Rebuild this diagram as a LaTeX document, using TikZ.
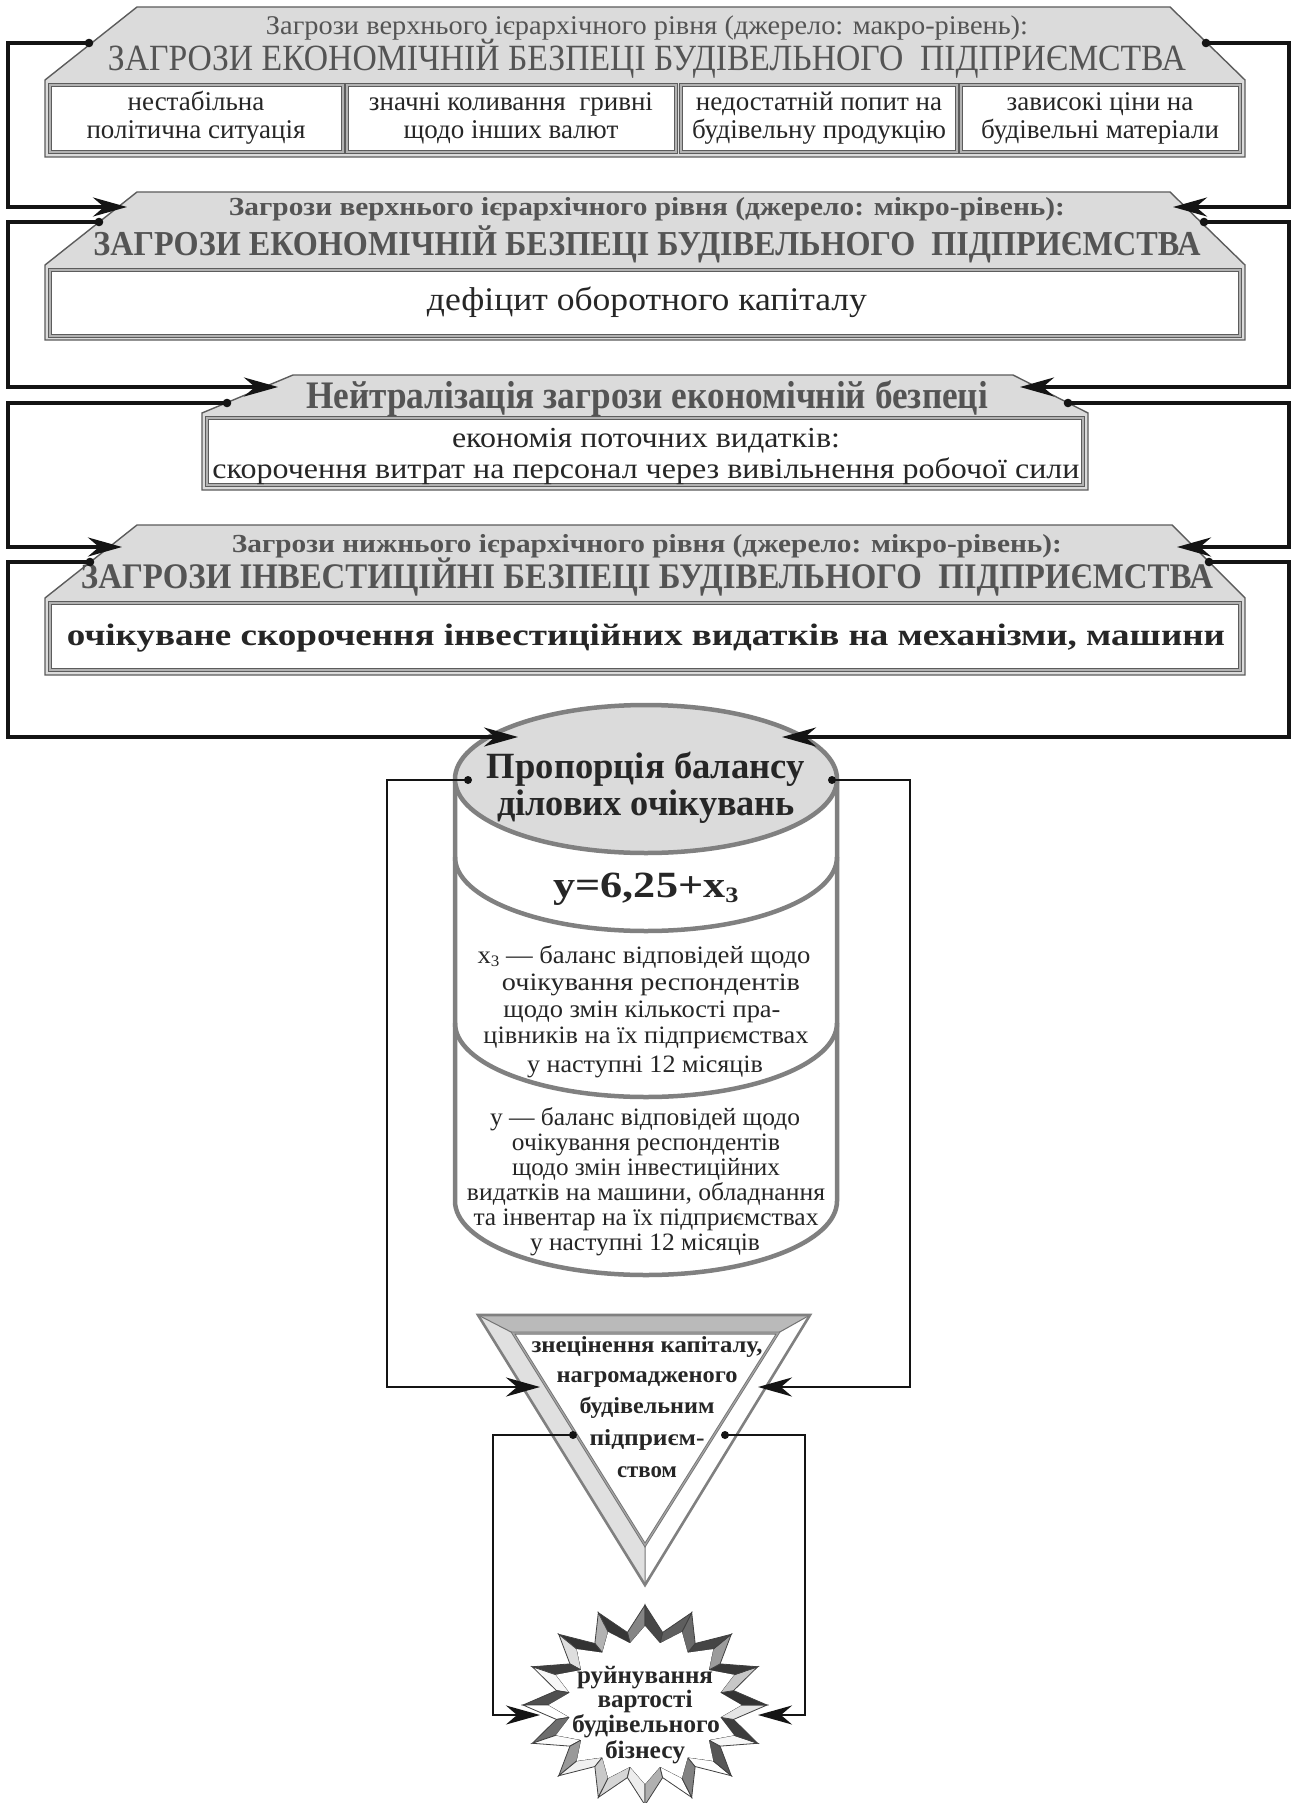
\documentclass[tikz,border=0pt]{standalone}
\usepackage{fontspec}
\setmainfont{Liberation Serif}
\usepackage{graphicx}
\usetikzlibrary{arrows.meta,calc}
\newcommand{\fw}[2]{\resizebox{#1pt}{\height}{#2}}
\newcommand{\fs}[1]{\fontsize{#1}{#1}\selectfont}
\definecolor{boxfill}{gray}{0.86}
\definecolor{edgec}{gray}{0.36}
\definecolor{ttlc}{gray}{0.33}
\definecolor{dtxt}{gray}{0.15}
\definecolor{cylc}{gray}{0.50}
\begin{document}
\begin{tikzpicture}[x=1pt,y=-1pt,
  hexbox/.style={fill=boxfill,draw=edgec,line width=1.4},
  inbox/.style={fill=white,draw=edgec,line width=0.9,double=black!30,double distance=1.3},
  conn/.style={line width=3.3,draw=black!92,line join=miter},
  connb/.style={line width=2.7,draw=black!92},
  connc/.style={line width=2.1,draw=black!92},
  arr/.style={-{Stealth[length=34pt,width=19pt,inset=11pt]}},
  lbl/.style={inner sep=0pt,outer sep=0pt,text=dtxt,anchor=base},
  ttl/.style={inner sep=0pt,outer sep=0pt,text=ttlc,anchor=base},
  dotc/.style={fill=black!92}]
\useasboundingbox (0,0) rectangle (1295,1803);
\fill[white] (0,0) rectangle (1295,1803);

% ---------- box 1 ----------
\draw[hexbox] (137,7) -- (1170,7) -- (1245,80) -- (1245,157) -- (45,157) -- (45,80) -- cycle;
\draw[inbox] (50,85) rectangle (343,152);
\draw[inbox] (347,85) rectangle (676,152);
\draw[inbox] (681,85) rectangle (957,152);
\draw[inbox] (961,85) rectangle (1240,152);
\node[ttl] (s1) at (647,35) {\fw{762}{\fs{27}Загрози верхнього ієрархічного рівня (джерело: макро-рівень):}};
\node[ttl] (h1) at (647,71) {\fw{1078}{\fs{37}ЗАГРОЗИ ЕКОНОМІЧНІЙ БЕЗПЕЦІ БУДІВЕЛЬНОГО\ \ ПІДПРИЄМСТВА}};
\node[lbl] (f1a) at (196,111) {\fs{27}нестабільна};
\node[lbl] (f1b) at (196,139) {\fs{27}політична ситуація};
\node[lbl] (f2a) at (511,111) {\fs{27}значні коливання\ \ гривні};
\node[lbl] (f2b) at (511,139) {\fs{27}щодо інших валют};
\node[lbl] (f3a) at (819,111) {\fs{27}недостатній попит на};
\node[lbl] (f3b) at (819,139) {\fs{27}будівельну продукцію};
\node[lbl] (f4a) at (1100,111) {\fs{27}зависокі ціни на};
\node[lbl] (f4b) at (1100,139) {\fs{27}будівельні матеріали};

% ---------- box 2 ----------
\draw[hexbox] (137,192) -- (1170,192) -- (1245,265) -- (1245,340) -- (45,340) -- (45,265) -- cycle;
\draw[inbox] (50,270) rectangle (1240,336);
\node[ttl] (s2) at (647,215) {\fw{836}{\fs{26}\bfseries Загрози верхнього ієрархічного рівня (джерело: мікро-рівень):}};
\node[ttl] (h2) at (647,255) {\fw{1107}{\fs{35}\bfseries ЗАГРОЗИ ЕКОНОМІЧНІЙ БЕЗПЕЦІ БУДІВЕЛЬНОГО\ \ ПІДПРИЄМСТВА}};
\node[lbl] (c2) at (647,310) {\fw{440}{\fs{33}дефіцит оборотного капіталу}};

% ---------- box 3 ----------
\draw[hexbox] (293,375) -- (1013,375) -- (1088,413) -- (1088,490) -- (202,490) -- (202,413) -- cycle;
\draw[inbox] (207,418) rectangle (1083,485);
\node[ttl] (h3) at (647,408) {\fw{682}{\fs{39}\bfseries Нейтралізація загрози економічній безпеці}};
\node[lbl] (c3a) at (646,447) {\fw{388}{\fs{29}економія поточних видатків:}};
\node[lbl] (c3b) at (646,478) {\fw{867}{\fs{29}скорочення витрат на персонал через вивільнення робочої сили}};

% ---------- box 4 ----------
\draw[hexbox] (137,525) -- (1172,525) -- (1245,598) -- (1245,675) -- (45,675) -- (45,598) -- cycle;
\draw[inbox] (50,603) rectangle (1240,670);
\node[ttl] (s4) at (647,552) {\fw{830}{\fs{26}\bfseries Загрози нижнього ієрархічного рівня (джерело: мікро-рівень):}};
\node[ttl] (h4) at (647,588) {\fw{1132}{\fs{36}\bfseries ЗАГРОЗИ ІНВЕСТИЦІЙНІ БЕЗПЕЦІ БУДІВЕЛЬНОГО\ \ ПІДПРИЄМСТВА}};
\node[lbl] (c4) at (646,645) {\fw{1158}{\fs{31}\bfseries очікуване скорочення інвестиційних видатків на механізми, машини}};

% ---------- cylinder ----------
\fill[white] (455,779) -- (455,1201) arc[start angle=180,end angle=0,x radius=191,y radius=74] -- (837,779) -- cycle;
\draw[cylc,line width=4.5] (455,779) -- (455,1201) arc[start angle=180,end angle=0,x radius=191,y radius=74] -- (837,779);
\draw[cylc,line width=4.5] (455,857) arc[start angle=180,end angle=0,x radius=191,y radius=74];
\draw[cylc,line width=4.5] (455,1023) arc[start angle=180,end angle=0,x radius=191,y radius=74];
\draw[cylc,line width=4.5,fill=boxfill] (646,779) ellipse[x radius=191,y radius=74];
\node[lbl] (k1) at (646,778) {\fw{318}{\fs{37}\bfseries Пропорція балансу}};
\node[lbl] (k2) at (646,815) {\fw{298}{\fs{37}\bfseries ділових очікувань}};
\node[lbl] (k3) at (646,897) {\fw{185}{\fs{37}\bfseries y=6,25+x{\fs{22}\raisebox{-5pt}{3}}}};
\node[lbl] (x1) at (644,963) {\fw{333}{\fs{25}x{\fs{16}\raisebox{-3pt}{3}} — баланс відповідей щодо}};
\node[lbl] (x2) at (651,990) {\fw{298}{\fs{25}очікування респондентів}};
\node[lbl] (x3) at (642,1017) {\fw{277}{\fs{25}щодо змін кількості пра-}};
\node[lbl] (x4) at (646,1043) {\fw{325}{\fs{25}цівників на їх підприємствах}};
\node[lbl] (x5) at (645,1072) {\fw{236}{\fs{25}у наступні 12 місяців}};
\node[lbl] (y1) at (645,1125) {\fw{310}{\fs{25}y — баланс відповідей щодо}};
\node[lbl] (y2) at (646,1150) {\fw{268}{\fs{25}очікування респондентів}};
\node[lbl] (y3) at (646,1175) {\fw{268}{\fs{25}щодо змін інвестиційних}};
\node[lbl] (y4) at (646,1200) {\fw{358}{\fs{25}видатків на машини, обладнання}};
\node[lbl] (y5) at (646,1225) {\fw{345}{\fs{25}та інвентар на їх підприємствах}};
\node[lbl] (y6) at (645,1250) {\fw{230}{\fs{25}у наступні 12 місяців}};

% ---------- triangle ----------
\coordinate (O1) at (478,1315); \coordinate (O2) at (810,1315); \coordinate (O3) at (645,1585);
\coordinate (I1) at (513,1333); \coordinate (I2) at (778,1333); \coordinate (I3) at (645,1545);
\fill[black!27] (O1) -- (O2) -- (I2) -- (I1) -- cycle;
\fill[black!12] (O1) -- (I1) -- (I3) -- (O3) -- cycle;
\fill[white] (O2) -- (O3) -- (I3) -- (I2) -- cycle;
\draw[black!55,line width=1] (O1) -- (I1) (O2) -- (I2) (O3) -- (I3);
\draw[black!50,line width=2.6,line join=miter] (O1) -- (O2) -- (O3) -- cycle;
\draw[black!55,line width=0.9,double=black!35,double distance=1.2,fill=white] (I1) -- (I2) -- (I3) -- cycle;
\node[lbl] (r1) at (647,1352) {\fw{231}{\fs{23}\bfseries знецінення капіталу,}};
\node[lbl] (r2) at (647,1382) {\fw{181}{\fs{23}\bfseries нагромадженого}};
\node[lbl] (r3) at (647,1413) {\fw{135}{\fs{23}\bfseries будівельним}};
\node[lbl] (r4) at (647,1445) {\fw{115}{\fs{23}\bfseries підприєм-}};
\node[lbl] (r5) at (647,1477) {\fw{60}{\fs{23}\bfseries ством}};

% ---------- star ----------
\def\scx{645}\def\scy{1705}
\def\vr{0.74}
\foreach \i in {0,...,31}{
  \pgfmathsetmacro{\aA}{90+\i*11.25}
  \pgfmathsetmacro{\aB}{90+(\i+1)*11.25}
  \pgfmathsetmacro{\rA}{mod(\i,2)==0?1:\vr}
  \pgfmathsetmacro{\rB}{mod(\i+1,2)==0?1:\vr}
  \pgfmathsetmacro{\fA}{mod(\i,2)==0?0.79:0.85}
  \pgfmathsetmacro{\fB}{mod(\i+1,2)==0?0.79:0.85}
  \pgfmathsetmacro{\pAx}{\scx+122*\rA*cos(\aA)}
  \pgfmathsetmacro{\pAy}{\scy-100*\rA*sin(\aA)}
  \pgfmathsetmacro{\pBx}{\scx+122*\rB*cos(\aB)}
  \pgfmathsetmacro{\pBy}{\scy-100*\rB*sin(\aB)}
  \pgfmathsetmacro{\qAx}{\scx+122*\rA*\fA*cos(\aA)}
  \pgfmathsetmacro{\qAy}{\scy-100*\rA*\fA*sin(\aA)}
  \pgfmathsetmacro{\qBx}{\scx+122*\rB*\fB*cos(\aB)}
  \pgfmathsetmacro{\qBy}{\scy-100*\rB*\fB*sin(\aB)}
  \pgfmathsetmacro{\nx}{\pBy-\pAy}
  \pgfmathsetmacro{\ny}{\pAx-\pBx}
  \pgfmathsetmacro{\mx}{(\pAx+\pBx)/2-\scx}
  \pgfmathsetmacro{\my}{(\pAy+\pBy)/2-\scy}
  \pgfmathsetmacro{\sg}{(\nx*\mx+\ny*\my)<0?-1:1}
  \pgfmathsetmacro{\nl}{sqrt(\nx*\nx+\ny*\ny)}
  \pgfmathsetmacro{\up}{-\sg*\ny/\nl}
  \pgfmathsetmacro{\rt}{\sg*\nx/\nl}
  \pgfmathtruncatemacro{\sh}{max(0,min(85,40+38*\up+14*\rt))}
  \filldraw[fill=black!\sh,draw=black!75,line width=0.8] (\pAx,\pAy) -- (\pBx,\pBy) -- (\qBx,\qBy) -- (\qAx,\qAy) -- cycle;
}
\foreach \i in {0,...,31}{
  \pgfmathsetmacro{\aA}{90+\i*11.25}
  \pgfmathsetmacro{\rA}{mod(\i,2)==0?0.79:\vr*0.85}
  \coordinate (sq\i) at ({\scx+122*\rA*cos(\aA)},{\scy-100*\rA*sin(\aA)});
}
\fill[white] (sq0) \foreach \i in {1,...,31}{ -- (sq\i)} -- cycle;
\node[lbl] (z1) at (645,1683) {\fw{136}{\fs{25}\bfseries руйнування}};
\node[lbl] (z2) at (645,1707) {\fw{95}{\fs{25}\bfseries вартості}};
\node[lbl] (z3) at (646,1732) {\fw{148}{\fs{25}\bfseries будівельного}};
\node[lbl] (z4) at (645,1758) {\fw{80}{\fs{25}\bfseries бізнесу}};

% ---------- connector coordinates ----------
\coordinate (xL) at (8,0); \coordinate (xR) at (1289,0);
\coordinate (d1L) at (89,43); \coordinate (d1R) at (1206,43);
\coordinate (t2L) at (127,207); \coordinate (t2R) at (1173,207);
\coordinate (d2L) at (99,222); \coordinate (d2R) at (1204,222);
\coordinate (t3L) at (278,387); \coordinate (t3R) at (1020,387);
\coordinate (d3L) at (227,403); \coordinate (d3R) at (1068,403);
\coordinate (t4L) at (122,547); \coordinate (t4R) at (1177,547);
\coordinate (d4L) at (90,562); \coordinate (d4R) at (1209,562);
\coordinate (tcL) at (518,737); \coordinate (tcR) at (782,737);
\coordinate (dcL) at (468,780); \coordinate (dcR) at (832,780);
\coordinate (xL2) at (387,0); \coordinate (xR2) at (910,0);
\coordinate (ttL) at (540,1387); \coordinate (ttR) at (758,1387);
\coordinate (dtL) at (573,1435); \coordinate (dtR) at (725,1435);
\coordinate (xL3) at (493,0); \coordinate (xR3) at (805,0);
\coordinate (tsL) at (540,1715); \coordinate (tsR) at (758,1715);

% ---------- connectors ----------
\draw[conn,arr] (d1L) -- (d1L -| xL) -- (t2L -| xL) -- (t2L);
\draw[conn,arr] (d1R) -- (d1R -| xR) -- (t2R -| xR) -- (t2R);
\draw[conn,arr] (d2L) -- (d2L -| xL) -- (t3L -| xL) -- (t3L);
\draw[conn,arr] (d2R) -- (d2R -| xR) -- (t3R -| xR) -- (t3R);
\draw[conn,arr] (d3L) -- (d3L -| xL) -- (t4L -| xL) -- (t4L);
\draw[conn,arr] (d3R) -- (d3R -| xR) -- (t4R -| xR) -- (t4R);
\draw[conn,arr] (d4L) -- (d4L -| xL) -- (tcL -| xL) -- (tcL);
\draw[conn,arr] (d4R) -- (d4R -| xR) -- (tcR -| xR) -- (tcR);
\draw[connb,arr] (dcL) -- (dcL -| xL2) -- (ttL -| xL2) -- (ttL);
\draw[connb,arr] (dcR) -- (dcR -| xR2) -- (ttR -| xR2) -- (ttR);
\draw[connc,arr] (dtL) -- (dtL -| xL3) -- (tsL -| xL3) -- (tsL);
\draw[connc,arr] (dtR) -- (dtR -| xR3) -- (tsR -| xR3) -- (tsR);
\foreach \d in {d1L,d1R,d2L,d2R,d3L,d3R,d4L,d4R}{\fill[dotc] (\d) circle (4.3pt);}
\foreach \d in {dcL,dcR,dtL,dtR}{\fill[dotc] (\d) circle (4pt);}
\end{tikzpicture}
\end{document}
